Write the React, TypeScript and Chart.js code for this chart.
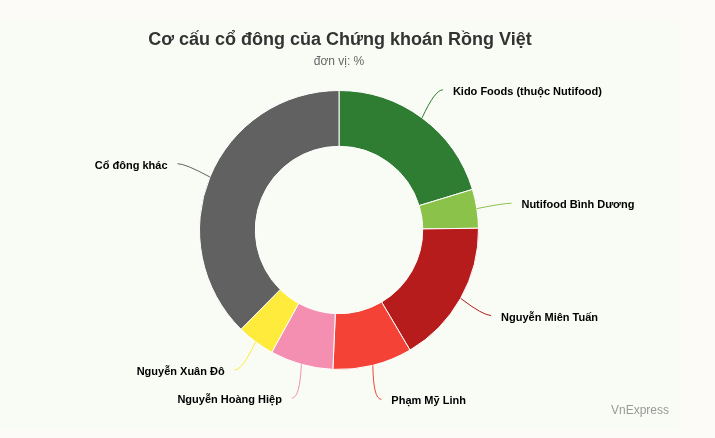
import React, { useEffect, useRef } from "react";
import { Chart, registerables, Plugin } from "chart.js";

Chart.register(...registerables);

const shareholders = [
  "Kido Foods (thuộc Nutifood)",
  "Nutifood Bình Dương",
  "Nguyễn Miên Tuấn",
  "Phạm Mỹ Linh",
  "Nguyễn Hoàng Hiệp",
  "Nguyễn Xuân Đô",
  "Cổ đông khác",
];
const percentages = [20.3, 4.5, 16.7, 9.2, 7.3, 4.4, 37.6];
const sliceColors = [
  "#2e7d32",
  "#8bc34a",
  "#b71c1c",
  "#f44336",
  "#f48fb1",
  "#ffeb3b",
  "#616161",
];

const FONT = "'Liberation Sans', Arial, sans-serif";

// background panel, title, subtitle and credit
const decorPlugin: Plugin<"doughnut"> = {
  id: "decor",
  beforeDraw(chart) {
    const { ctx, width } = chart;
    ctx.save();
    ctx.fillStyle = "#fcfbf8";
    ctx.fillRect(0, 0, width, chart.height);
    ctx.fillStyle = "#f9fcf5";
    ctx.fillRect(0, 20, 680, 410);
    ctx.restore();
  },
  afterDraw(chart) {
    const { ctx } = chart;
    ctx.save();
    ctx.textAlign = "center";
    ctx.textBaseline = "middle";
    ctx.fillStyle = "#333333";
    ctx.font = `bold 18px ${FONT}`;
    ctx.fillText("Cơ cấu cổ đông của Chứng khoán Rồng Việt", 340, 40);
    ctx.fillStyle = "#666666";
    ctx.font = `12px ${FONT}`;
    ctx.fillText("đơn vị: %", 339, 62);
    ctx.textAlign = "right";
    ctx.fillStyle = "#999999";
    ctx.font = `12px ${FONT}`;
    ctx.fillText("VnExpress", 669, 411);
    ctx.restore();
  },
};

// outside labels with curved connectors
const labelPlugin: Plugin<"doughnut"> = {
  id: "outsideLabels",
  afterDatasetsDraw(chart) {
    const { ctx } = chart;
    const meta = chart.getDatasetMeta(0);
    ctx.save();
    meta.data.forEach((el, i) => {
      const { x, y, startAngle, endAngle, outerRadius } = el.getProps(
        ["x", "y", "startAngle", "endAngle", "outerRadius"],
        true
      ) as any;
      const mid = (startAngle + endAngle) / 2;
      const cos = Math.cos(mid);
      const sin = Math.sin(mid);
      const side = cos >= 0 ? 1 : -1;
      const sx = x + cos * outerRadius;
      const sy = y + sin * outerRadius;
      const ex = x + cos * (outerRadius + 35);
      const ey = y + sin * (outerRadius + 35);
      ctx.strokeStyle = sliceColors[i];
      ctx.lineWidth = 1;
      ctx.beginPath();
      ctx.moveTo(sx, sy);
      ctx.quadraticCurveTo(ex - side * 8, ey, ex, ey);
      ctx.stroke();
      ctx.fillStyle = "#000000";
      ctx.font = `bold 11px ${FONT}`;
      ctx.textBaseline = "middle";
      ctx.textAlign = side > 0 ? "left" : "right";
      ctx.fillText(String(chart.data.labels![i]), ex + side * 10, ey + 2);
    });
    ctx.restore();
  },
};

const App = () => {
  const canvasRef = useRef<HTMLCanvasElement>(null);

  useEffect(() => {
    const ctx = canvasRef.current?.getContext("2d");
    if (!ctx) return;

    const chart = new Chart(ctx, {
      type: "doughnut",
      data: {
        labels: shareholders,
        datasets: [
          {
            data: percentages,
            backgroundColor: sliceColors,
            borderColor: "#ffffff",
            borderWidth: 1,
          },
        ],
      },
      options: {
        animation: false,
        responsive: false,
        cutout: "60%",
        layout: {
          padding: { top: 90, bottom: 68, left: 199, right: 236 },
        },
        plugins: {
          legend: { display: false },
          tooltip: { enabled: false },
        },
      },
      plugins: [decorPlugin, labelPlugin],
    });

    return () => {
      chart.destroy();
    };
  }, []);

  return (
    <div style={{ position: "fixed", left: 0, top: 0, width: 715, height: 438 }}>
      <canvas ref={canvasRef} width={715} height={438} />
    </div>
  );
};

export default App;
